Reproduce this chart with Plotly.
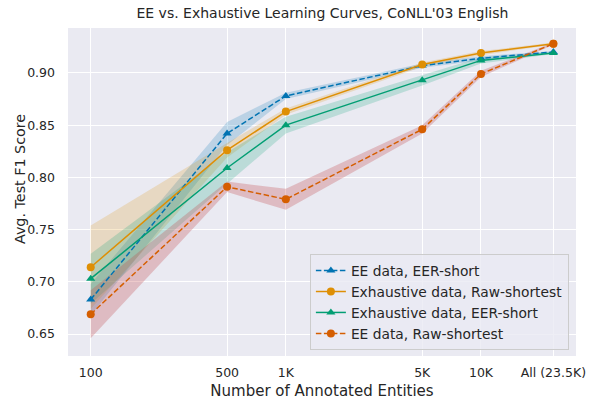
import plotly.graph_objects as go

x_vals = [100, 500, 1000, 5000, 10000, 23500]
x_ticktext = ["100", "500", "1K", "5K", "10K", "All (23.5K)"]

names = ["EE data, EER-short", "Exhaustive data, Raw-shortest",
         "Exhaustive data, EER-short", "EE data, Raw-shortest"]

ee_eer_mean = [0.683, 0.842, 0.878, 0.907, 0.914, 0.920]
ee_eer_err = [0.015, 0.011, 0.003, 0.002, 0.002, 0.001]

ex_raw_mean = [0.714, 0.826, 0.863, 0.908, 0.919, 0.928]
ex_raw_err = [0.040, 0.007, 0.003, 0.002, 0.002, 0.001]

ex_eer_mean = [0.703, 0.809, 0.850, 0.893, 0.912, 0.919]
ex_eer_err = [0.024, 0.015, 0.008, 0.005, 0.003, 0.001]

ee_raw_mean = [0.669, 0.791, 0.779, 0.846, 0.899, 0.928]
ee_raw_err = [0.023, 0.005, 0.010, 0.004, 0.003, 0.001]

series = [
    (names[0], ee_eer_mean, ee_eer_err, "#0173B2", "rgba(1,115,178,0.2)", "5.5px,2.5px", "triangle-up"),
    (names[1], ex_raw_mean, ex_raw_err, "#DE8F05", "rgba(222,143,5,0.2)", "solid", "circle"),
    (names[2], ex_eer_mean, ex_eer_err, "#029E73", "rgba(2,158,115,0.2)", "solid", "triangle-up"),
    (names[3], ee_raw_mean, ee_raw_err, "#D55E00", "rgba(196,78,82,0.3)", "5.5px,2.5px", "circle"),
]

fig = go.Figure()

for name, mean, err, col, band, dash, sym in series:
    upper = [m + e for m, e in zip(mean, err)]
    lower = [m - e for m, e in zip(mean, err)]
    fig.add_trace(go.Scatter(
        x=x_vals + x_vals[::-1], y=upper + lower[::-1],
        fill="toself", fillcolor=band, line=dict(width=0),
        mode="lines", showlegend=False, hoverinfo="skip"))

for name, mean, err, col, band, dash, sym in series:
    fig.add_trace(go.Scatter(
        x=x_vals, y=mean, name=name, mode="lines+markers",
        line=dict(color=col, width=1.5, dash=dash),
        marker=dict(symbol=sym, size=8, color=col)))

text_col = "#262626"
fig.update_layout(
    width=590, height=401,
    margin=dict(l=68, r=14, t=28, b=45),
    paper_bgcolor="white", plot_bgcolor="#EAEAF2",
    font=dict(family="DejaVu Sans", size=13, color=text_col),
    title=dict(text="EE vs. Exhaustive Learning Curves, CoNLL'03 English",
               x=0.5465, xanchor="center", y=0.967, yanchor="middle",
               font=dict(size=14, color=text_col)),
    legend=dict(x=0.986, xanchor="right", y=0.018, yanchor="bottom",
                bgcolor="rgba(234,234,242,0.8)", bordercolor="#CCCCCC", borderwidth=1,
                font=dict(size=13.8, color=text_col), itemwidth=30,
                tracegroupgap=0),
    showlegend=True,
    annotations=[dict(text="Avg. Test F1 Score", xref="paper", yref="paper",
                      x=-0.0955, y=0.541, xanchor="center", yanchor="middle",
                      textangle=-90, showarrow=False,
                      font=dict(size=14.3, color=text_col))],
)
fig.update_xaxes(type="log", range=[1.8836, 4.487], automargin=False,
                 tickvals=x_vals, ticktext=x_ticktext,
                 showgrid=True, gridcolor="white", gridwidth=1.3,
                 zeroline=False, showline=False, ticks="",
                 ticklabelstandoff=7,
                 tickfont=dict(size=12.5, color=text_col),
                 title=dict(text="Number of Annotated Entities", font=dict(size=15, color=text_col), standoff=6))
fig.update_yaxes(range=[0.629, 0.943], automargin=False,
                 tickvals=[0.65, 0.70, 0.75, 0.80, 0.85, 0.90],
                 tickformat=".2f",
                 showgrid=True, gridcolor="white", gridwidth=1.3,
                 zeroline=False, showline=False, ticks="",
                 ticklabelstandoff=12,
                 tickfont=dict(size=12.5, color=text_col))

fig.write_html("out.html", config={"displayModeBar": False},
               post_script="document.body.style.margin='0';")
